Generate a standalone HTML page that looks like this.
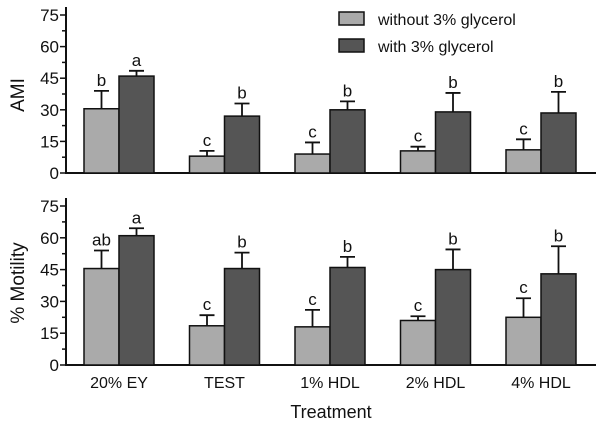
<!DOCTYPE html>
<html><head><meta charset="utf-8"><style>
body{margin:0;background:#fff}
svg text{font-family:"Liberation Sans",Arial,sans-serif;fill:#111}
</style></head><body>
<svg id="c" width="600" height="426" xmlns="http://www.w3.org/2000/svg"></svg>
<script>
const categories=["20% EY","TEST","1% HDL","2% HDL","4% HDL"];
const amiWithout=[30.5,8,9,10.5,11];
const amiWithoutErr=[8.5,2.5,5.5,2,5];
const amiWith=[46,27,30,29,28.5];
const amiWithErr=[2.5,6,4,9,10];
const amiWithoutLetters=["b","c","c","c","c"];
const amiWithLetters=["a","b","b","b","b"];
const motWithout=[45.5,18.5,18,21,22.5];
const motWithoutErr=[8.5,5,8,2,9];
const motWith=[61,45.5,46,45,43];
const motWithErr=[3.5,7.5,5,9.5,13];
const motWithoutLetters=["ab","c","c","c","c"];
const motWithLetters=["a","b","b","b","b"];
const yTicks=[0,15,30,45,60,75];

const svg=document.getElementById('c');
const NS="http://www.w3.org/2000/svg";
function mk(t,a,txt){const e=document.createElementNS(NS,t);for(const k in a)e.setAttribute(k,a[k]);if(txt!==undefined)e.textContent=txt;svg.appendChild(e);return e;}
const x0=66,x1=596;
function cx(i){return 119+i*105.5;}
function panel(name,y0,yTop,vals1,err1,let1,vals2,err2,let2,title,titleY){
  const ys=v=>y0-(y0-yTop)*v/75;
  let e=mk('line',{x1:x0,y1:y0,x2:x1,y2:y0,stroke:'#111','stroke-width':2});
  
  e=mk('line',{x1:x0,y1:y0+1,x2:x0,y2:yTop-8,stroke:'#111','stroke-width':2});
  
  for(let v=0;v<=75;v+=7.5){const major=v%15===0;
    e=mk('line',{x1:x0-(major?6:4),y1:ys(v),x2:x0,y2:ys(v),stroke:'#111','stroke-width':1.5});
    }
  yTicks.forEach(v=>{e=mk('text',{x:x0-7,y:ys(v)+6,'text-anchor':'end','font-size':17},String(v));
    });
  e=mk('text',{x:0,y:0,'font-size':19,'text-anchor':'middle',transform:`translate(24,${titleY}) rotate(-90)`},title);
  
  categories.forEach((c,i)=>{
    [[vals1,err1,let1,'#aaa',-35,'without'],[vals2,err2,let2,'#555',0,'with']].forEach(([vs,es,ls,col,off,s])=>{
      const bx=cx(i)+off,v=vs[i],top=ys(v),et=ys(v+es[i]);
      let r=mk('rect',{x:bx,y:top,width:35,height:y0-top,fill:col,stroke:'#111','stroke-width':1.5});
      
      r=mk('path',{d:`M${bx+17.5},${top}V${et}M${bx+10},${et}H${bx+25}`,stroke:'#111','stroke-width':1.8,fill:'none'});
      
      r=mk('text',{x:bx+17.5,y:et-5,'text-anchor':'middle','font-size':17},ls[i]);
      
    });
  });
}
panel('ami',173,15,amiWithout,amiWithoutErr,amiWithoutLetters,amiWith,amiWithErr,amiWithLetters,'AMI',95);
panel('motility',365,206,motWithout,motWithoutErr,motWithoutLetters,motWith,motWithErr,motWithLetters,'% Motility',283);
categories.forEach((c,i)=>{const e=mk('text',{x:cx(i),y:388,'text-anchor':'middle','font-size':16},c);
  });
let t=mk('text',{x:331,y:418,'text-anchor':'middle','font-size':18},'Treatment');

[['#aaa','without 3% glycerol',12],['#555','with 3% glycerol',39]].forEach(([col,lab,y],k)=>{
  let e=mk('rect',{x:339,y:y,width:25,height:13,fill:col,stroke:'#111','stroke-width':1.5});
  
  e=mk('text',{x:378,y:y+13,'font-size':16},lab);
  
});
</script>
</body></html>
